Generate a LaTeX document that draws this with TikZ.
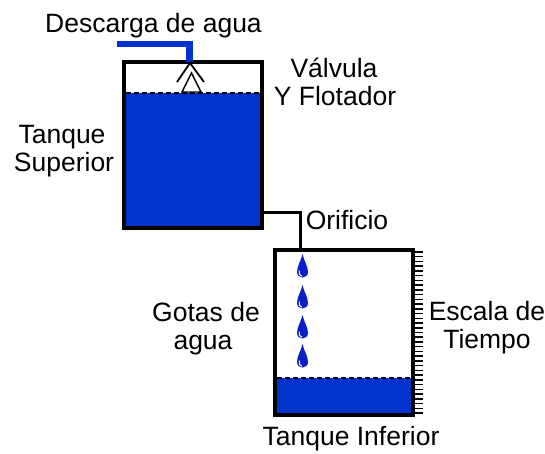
\documentclass[tikz,border=0pt]{standalone}
\usepackage{fontspec}
\setmainfont{Liberation Sans}
\definecolor{water}{RGB}{0,51,204}
\definecolor{dropblue}{RGB}{10,30,200}
\begin{document}
\begin{tikzpicture}[x=1pt,y=-1pt,
  lbl/.style={inner sep=0pt,anchor=base,font=\fontsize{26.5}{28}\selectfont},
  wall/.style={draw=black,line width=3.2pt},
  level/.style={draw=black,line width=1.6pt,dash pattern=on 5pt off 3pt},
  tick/.style={draw=black,line width=1.5pt},
  pic drop/.style={},
  drop/.pic={
    \fill[dropblue] (0,-18) .. controls (1.5,-11) and (5.5,-6) .. (5.5,0)
      .. controls (5.5,3.2) and (3,5.5) .. (0,5.5)
      .. controls (-3,5.5) and (-5.5,3.2) .. (-5.5,0)
      .. controls (-5.5,-6) and (-1.5,-11) .. (0,-18) -- cycle;
    \draw[white,line width=1pt] (-3.4,-1.5) .. controls (-4,1.5) and (-2.5,4) .. (-0.5,4.2);
  }]
\useasboundingbox (0,0) rectangle (545,453);
\fill[white] (0,0) rectangle (545,453);

% upper tank with its water
\fill[water] (124,93) rectangle (262,228);
\draw[level] (125.6,93) -- (260.4,93);
\draw[wall] (124,62) rectangle (262,228);

% inlet pipe and float valve
\draw[water,line width=6.5pt,line join=miter] (117,44) -- (189.5,44) -- (189.5,62);
\draw[black,line width=1.8pt] (177,82) -- (190,63) -- (204,82);
\draw[black,line width=1.4pt,fill=white] (191.5,73) -- (201,92) -- (182,92) -- cycle;

% orifice line between the tanks
\coordinate (o1) at (262,212);
\coordinate (o2) at (300,212);
\coordinate (o3) at (300,250);
\draw[black,line width=3pt] (o1) -- (o2) -- (o3);

% lower tank with its water
\fill[water] (275,378) rectangle (413,415);
\draw[level] (276.6,378) -- (411.4,378);
\draw[wall] (275,250) rectangle (413,415);

% time scale
\foreach \i in {0,...,34}
  \draw[tick] (414,{252+4.735*\i}) -- (423,{252+4.735*\i});

% water drops
\foreach \y [count=\k] in {272,303,333,362}
  \pic (d\k) at (302.5,\y) {drop};

% labels
\node[lbl] (t1) at (153.5,32) {Descarga de agua};
\node[lbl] (t2) at (334,77) {Válvula};
\node[lbl] (t3) at (335,105.5) {Y Flotador};
\node[lbl] (t4) at (62,143) {Tanque};
\node[lbl] (t5) at (64,171) {Superior};
\node[lbl] (t6) at (347,229) {Orificio};
\node[lbl] (t7) at (206,321) {Gotas de};
\node[lbl] (t8) at (203,349) {agua};
\node[lbl] (t9) at (487,320) {Escala de};
\node[lbl] (t10) at (487,348) {Tiempo};
\node[lbl] (t11) at (351,445) {Tanque Inferior};
\end{tikzpicture}
\end{document}
